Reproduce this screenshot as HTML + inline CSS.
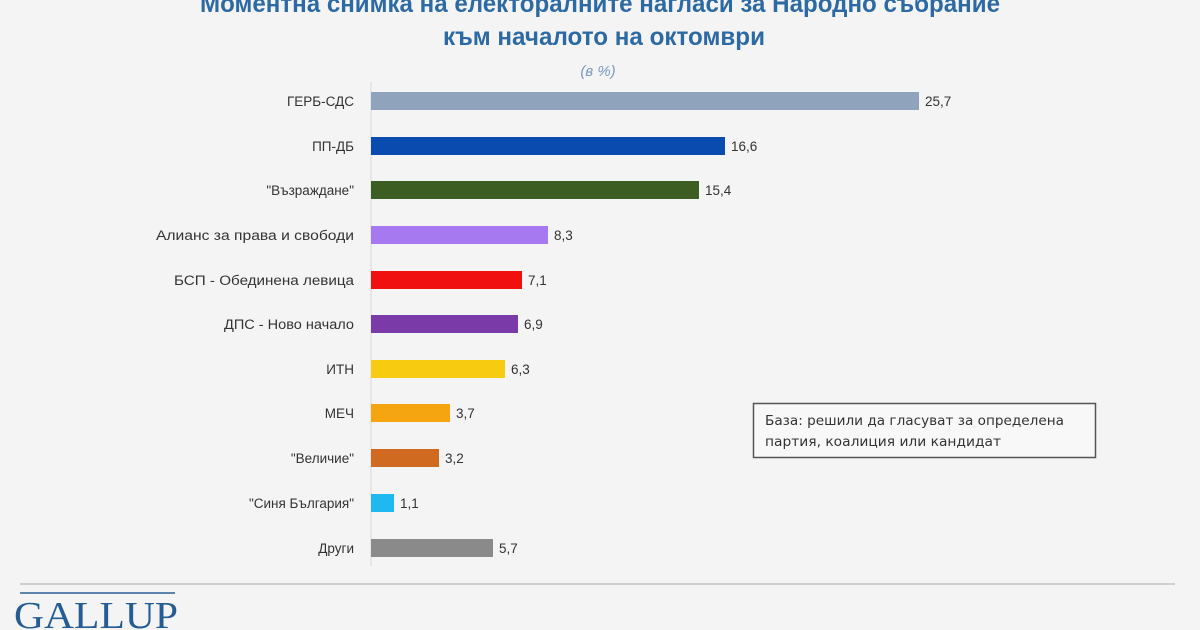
<!DOCTYPE html>
<html><head><meta charset="utf-8"><style>
html,body{margin:0;padding:0;background:#f4f4f4;}
svg{display:block}
</style></head><body>
<svg width="1200" height="630" viewBox="0 0 1200 630" xmlns="http://www.w3.org/2000/svg">
<rect width="1200" height="630" fill="#f4f4f4"/>
<g font-family="'Liberation Sans Narrow','Liberation Sans','DejaVu Sans Condensed',sans-serif" font-weight="bold" fill="#2d6aa3" text-anchor="middle">
<text x="600" y="12" font-size="25" textLength="800" lengthAdjust="spacingAndGlyphs">Моментна снимка на електоралните нагласи за Народно събрание</text>
<text x="604" y="45" font-size="25" textLength="322" lengthAdjust="spacingAndGlyphs">към началото на октомври</text>
</g>
<text x="598" y="76" font-family="'Liberation Sans Narrow','Liberation Sans',sans-serif" font-style="italic" font-size="15" fill="#7a9ac0" text-anchor="middle">(в %)</text>
<line x1="371" y1="82" x2="371" y2="566" stroke="#d8d8d8" stroke-width="1"/>
<g font-family="'Liberation Sans','DejaVu Sans',sans-serif" font-size="13.5" fill="#333">
<g text-anchor="end">
<text x="354" y="106">ГЕРБ-СДС</text>
<text x="354" y="151">ПП-ДБ</text>
<text x="354" y="195">"Възраждане"</text>
<text x="354" y="240" textLength="198" lengthAdjust="spacingAndGlyphs">Алианс за права и свободи</text>
<text x="354" y="285" textLength="180" lengthAdjust="spacingAndGlyphs">БСП - Обединена левица</text>
<text x="354" y="329" textLength="130" lengthAdjust="spacingAndGlyphs">ДПС - Ново начало</text>
<text x="354" y="374">ИТН</text>
<text x="354" y="418">МЕЧ</text>
<text x="354" y="463">"Величие"</text>
<text x="354" y="508">"Синя България"</text>
<text x="354" y="553">Други</text>
</g>
<rect x="371" y="92" width="548" height="18" fill="#8fa3bd"/>
<rect x="371" y="137" width="354" height="18" fill="#0a4bb0"/>
<rect x="371" y="181" width="328" height="18" fill="#3d5e23"/>
<rect x="371" y="226" width="177" height="18" fill="#a679f0"/>
<rect x="371" y="271" width="151" height="18" fill="#f01010"/>
<rect x="371" y="315" width="147" height="18" fill="#7a3aa8"/>
<rect x="371" y="360" width="134" height="18" fill="#f7cc10"/>
<rect x="371" y="404" width="79" height="18" fill="#f5a510"/>
<rect x="371" y="449" width="68" height="18" fill="#d06a20"/>
<rect x="371" y="494" width="23" height="18" fill="#20b8f0"/>
<rect x="371" y="539" width="122" height="18" fill="#8a8a8a"/>
<text x="925" y="106">25,7</text>
<text x="731" y="151">16,6</text>
<text x="705" y="195">15,4</text>
<text x="554" y="240">8,3</text>
<text x="528" y="285">7,1</text>
<text x="524" y="329">6,9</text>
<text x="511" y="374">6,3</text>
<text x="456" y="418">3,7</text>
<text x="445" y="463">3,2</text>
<text x="400" y="508">1,1</text>
<text x="499" y="553">5,7</text>
</g>
<rect x="753.5" y="403.5" width="342" height="54" fill="#f8f8f8" stroke="#555" stroke-width="1.5"/>
<g font-family="'DejaVu Sans','Liberation Sans',sans-serif" font-size="13.5" fill="#333">
<text x="765" y="425" textLength="299" lengthAdjust="spacingAndGlyphs">База: решили да гласуват за определена</text>
<text x="765" y="446" textLength="236" lengthAdjust="spacingAndGlyphs">партия, коалиция или кандидат</text>
</g>
<line x1="20" y1="584" x2="1175" y2="584" stroke="#cfcfcf" stroke-width="2"/>
<line x1="20" y1="593" x2="175" y2="593" stroke="#2a5f93" stroke-width="1.5"/>
<text x="14" y="628" font-family="'Liberation Serif',serif" font-size="38" fill="#245c93" textLength="164" lengthAdjust="spacingAndGlyphs">GALLUP</text>
</svg>
</body></html>
